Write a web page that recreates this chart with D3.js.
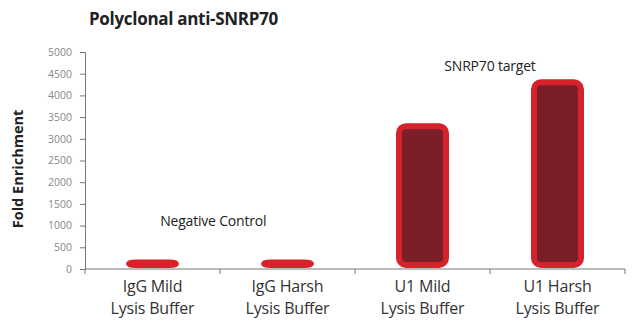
<!DOCTYPE html>
<html><head><meta charset="utf-8">
<script src="https://cdn.jsdelivr.net/npm/d3@7"></script>
<style>body{margin:0;background:#fff}svg{display:block}</style>
</head><body>
<script>
const categories = [["IgG Mild","Lysis Buffer"],["IgG Harsh","Lysis Buffer"],["U1 Mild","Lysis Buffer"],["U1 Harsh","Lysis Buffer"]];
const values = [220, 220, 3360, 4370];
const yTicks = [0,500,1000,1500,2000,2500,3000,3500,4000,4500,5000];
const title = "Polyclonal anti-SNRP70";
const yLabel = "Fold Enrichment";
const annotations = [{text:"Negative Control", cat:0.45, v:1000}, {text:"SNRP70 target", cat:2.5, v:4560}];

const W=640,H=332;
const svg=d3.select("body").append("svg").attr("width",W).attr("height",H);
const font="'Open Sans', sans-serif";
const x=d3.scaleBand().domain(d3.range(categories.length)).range([85,625]).paddingInner(0).paddingOuter(0);
const y=d3.scaleLinear().domain([0,5000]).range([269,52]);

svg.append("text").attr("x",89).attr("y",25).attr("font-family",font).attr("font-weight","bold")
  .attr("font-size",17).attr("letter-spacing",-0.3).attr("fill","#222").text(title);

svg.append("text").attr("transform","translate(23,169) rotate(-90)").attr("text-anchor","middle")
  .attr("font-family",font).attr("font-weight","bold").attr("font-size",14.5).attr("fill","#222").text(yLabel);

const ya=svg.append("g").attr("transform","translate(85,0)").call(d3.axisLeft(y).tickValues(yTicks).tickFormat(d3.format("d")).tickSize(5).tickPadding(8).tickSizeOuter(5));
ya.selectAll("text").attr("font-family",font).attr("font-size",10.5).attr("fill","#888");
ya.selectAll("line,path").attr("stroke","#777");

const xa=svg.append("g").attr("transform","translate(0,269)");
xa.append("line").attr("x1",85).attr("x2",625).attr("stroke","#777");
const bounds=d3.range(categories.length+1).map(i=>i<categories.length?x(i):x(categories.length-1)+x.bandwidth());
xa.selectAll("line.t").data(bounds).join("line").attr("class","t").attr("x1",d=>d).attr("x2",d=>d).attr("y1",0).attr("y2",5).attr("stroke","#777");
const lab=xa.selectAll("text.c").data(categories).join("text").attr("class","c")
  .attr("font-family",font).attr("font-size",16).attr("letter-spacing",-0.2).attr("fill","#333").attr("text-anchor","middle");
lab.each(function(d,i){
  const t=d3.select(this);
  d.forEach((s,j)=>t.append("tspan").attr("x",x(i)+x.bandwidth()/2).attr("y",j===0?23:45).text(s));
});

const bw=47, sw=6;
svg.selectAll("rect.bar").data(values).join("rect").attr("class","bar")
  .attr("x",(d,i)=>x(i)+x.bandwidth()/2-bw/2)
  .attr("y",d=>y(d)+sw/2)
  .attr("width",bw)
  .attr("height",d=>Math.max(0.5,y(0)-1-y(d)-sw))
  .attr("rx",7).attr("ry",7)
  .attr("fill",d=>d<500?"#d6222b":"#7a1f27")
  .attr("stroke","#d6222b").attr("stroke-width",sw);

svg.selectAll("text.ann").data(annotations).join("text").attr("class","ann")
  .attr("x",d=>x(0)+x.bandwidth()*(d.cat+0.5)).attr("y",d=>y(d.v))
  .attr("text-anchor","middle").attr("font-family",font).attr("font-size",14).attr("letter-spacing",-0.2).attr("fill","#222").text(d=>d.text);
</script>
</body></html>
